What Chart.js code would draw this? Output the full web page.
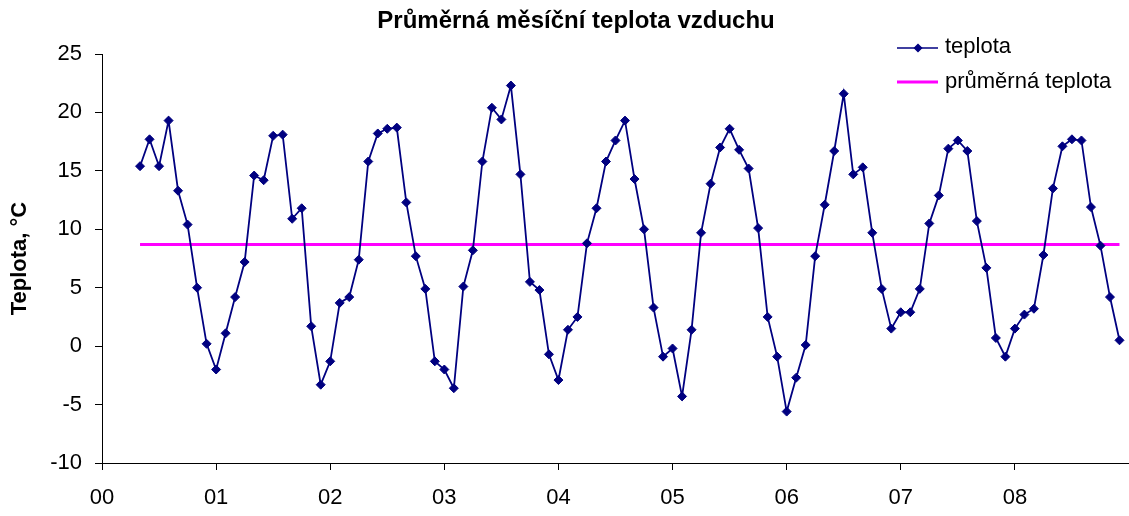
<!DOCTYPE html>
<html lang="cs">
<head>
<meta charset="utf-8">
<title>Průměrná měsíční teplota vzduchu</title>
<script src="https://cdn.jsdelivr.net/npm/chart.js@4.4.1/dist/chart.umd.min.js"></script>
<style>
  html, body { margin: 0; padding: 0; background: #fff; }
  #obal { width: 1129px; height: 516px; }
</style>
</head>
<body>
<div id="obal"><canvas id="grafTeplota"></canvas></div>
<script>
// hodnoty (°C), rok 2000 začíná květnem
const t2000 = [15.4, 17.7, 15.4, 19.3, 13.3, 10.4, 5.0, 0.2];
const t2001 = [-2.0, 1.1, 4.2, 7.2, 14.6, 14.2, 18.0, 18.1, 10.9, 11.8, 1.7, -3.3];
const t2002 = [-1.3, 3.7, 4.2, 7.4, 15.8, 18.2, 18.6, 18.7, 12.3, 7.7, 4.9, -1.3];
const t2003 = [-2.0, -3.6, 5.1, 8.2, 15.8, 20.4, 19.4, 22.3, 14.7, 5.5, 4.8, -0.7];
const t2004 = [-2.9, 1.4, 2.5, 8.8, 11.8, 15.8, 17.6, 19.3, 14.3, 10.0, 3.3, -0.9];
const t2005 = [-0.2, -4.3, 1.4, 9.7, 13.9, 17.0, 18.6, 16.8, 15.2, 10.1, 2.5, -0.9];
const t2006 = [-5.6, -2.7, 0.1, 7.7, 12.1, 16.7, 21.6, 14.7, 15.3, 9.7, 4.9, 1.5];
const t2007 = [2.9, 2.9, 4.9, 10.5, 12.9, 16.9, 17.6, 16.7, 10.7, 6.7, 0.7, -0.9];
const t2008 = [1.5, 2.7, 3.2, 7.8, 13.5, 17.1, 17.7, 17.6, 11.9, 8.6, 4.2, 0.5];

const prumernaTeplota = 8.7;

const roky = [2000, 2001, 2002, 2003, 2004, 2005, 2006, 2007, 2008, 2009];
const popiskyRoku = ['00', '01', '02', '03', '04', '05', '06', '07', '08', ''];
const prvniMesic = [5, 1, 1, 1, 1, 1, 1, 1, 1];

const nadpis = 'Průměrná měsíční teplota vzduchu';
const nazevOsyY = 'Teplota, °C';
const nazvyRad = ['teplota', 'průměrná teplota'];

const pismo = '"Liberation Sans", Arial, Helvetica, sans-serif';
const modra = '#000080';
const fialova = '#FF00FF';

// body řady: x = rok + (měsíc - 1) / 12
const rady = [t2000, t2001, t2002, t2003, t2004, t2005, t2006, t2007, t2008];
const body = [];
rady.forEach((hodnoty, i) => {
  hodnoty.forEach((h, j) => {
    body.push({ x: roky[i] + (prvniMesic[i] - 1 + j) / 12, y: h });
  });
});
const prumer = body.map(b => ({ x: b.x, y: prumernaTeplota }));

// nadpis a legenda se kreslí ručně, aby seděly na místo
const popisky = {
  id: 'popisky',
  afterDraw(chart) {
    const ctx = chart.ctx;
    ctx.save();
    ctx.fillStyle = '#000';
    ctx.font = 'bold 24px ' + pismo;
    ctx.textAlign = 'center';
    ctx.textBaseline = 'alphabetic';
    ctx.fillText(nadpis, 576, 28);

    // legenda vpravo nahoře
    ctx.lineCap = 'butt';
    ctx.strokeStyle = modra;
    ctx.lineWidth = 1.5;
    ctx.beginPath();
    ctx.moveTo(897, 48);
    ctx.lineTo(938, 48);
    ctx.stroke();
    ctx.fillStyle = modra;
    Chart.helpers.drawPoint(ctx, { pointStyle: 'rectRot', radius: 3.5, borderWidth: 1 }, 918, 48);

    ctx.strokeStyle = fialova;
    ctx.lineWidth = 3;
    ctx.beginPath();
    ctx.moveTo(897, 82);
    ctx.lineTo(938, 82);
    ctx.stroke();

    ctx.fillStyle = '#000';
    ctx.font = '22px ' + pismo;
    ctx.textAlign = 'left';
    ctx.fillText(nazvyRad[0], 945, 53);
    ctx.fillText(nazvyRad[1], 945, 88);
    ctx.restore();
  }
};

const ctx = document.getElementById('grafTeplota').getContext('2d');
new Chart(ctx, {
  type: 'line',
  data: {
    datasets: [
      {
        label: nazvyRad[0],
        data: body,
        borderColor: modra,
        backgroundColor: modra,
        borderWidth: 1.8,
        pointStyle: 'rectRot',
        pointRadius: 4.5,
        pointBorderWidth: 1,
        pointBackgroundColor: modra,
        pointBorderColor: modra,
        tension: 0,
        order: 1
      },
      {
        label: nazvyRad[1],
        data: prumer,
        borderColor: fialova,
        borderWidth: 3,
        pointRadius: 0,
        tension: 0,
        order: 2
      }
    ]
  },
  options: {
    responsive: true,
    maintainAspectRatio: false,
    animation: false,
    layout: { padding: { top: 54, right: 0, bottom: 0, left: 0 }, autoPadding: false },
    plugins: {
      legend: { display: false },
      title: { display: false },
      tooltip: { enabled: false }
    },
    scales: {
      x: {
        type: 'linear',
        min: 2000,
        max: 2009,
        afterFit: (scale) => {
          scale.height = 53;
          // osa má jít až k pravému okraji obrázku
          scale.paddingLeft = 0;
          scale.paddingRight = 0;
        },
        ticks: {
          stepSize: 1,
          autoSkip: false,
          maxRotation: 0,
          padding: 15,
          color: '#000',
          font: { family: pismo, size: 22 },
          callback: (v) => {
            const i = roky.indexOf(v);
            return i >= 0 ? popiskyRoku[i] : '';
          }
        },
        grid: { display: true, drawOnChartArea: false, drawTicks: true, tickLength: 7, color: '#000' },
        border: { display: true, color: '#000', width: 1 }
      },
      y: {
        min: -10,
        max: 25,
        afterFit: (scale) => { scale.width = 102; },
        ticks: {
          stepSize: 5,
          padding: 13,
          color: '#000',
          font: { family: pismo, size: 22 }
        },
        title: {
          display: true,
          text: nazevOsyY,
          color: '#000',
          padding: { top: 7, bottom: 0 },
          font: { family: pismo, size: 22, weight: 'bold' }
        },
        grid: { display: true, drawOnChartArea: false, drawTicks: true, tickLength: 7, color: '#000' },
        border: { display: true, color: '#000', width: 1 }
      }
    }
  },
  plugins: [popisky]
});
</script>
</body>
</html>
